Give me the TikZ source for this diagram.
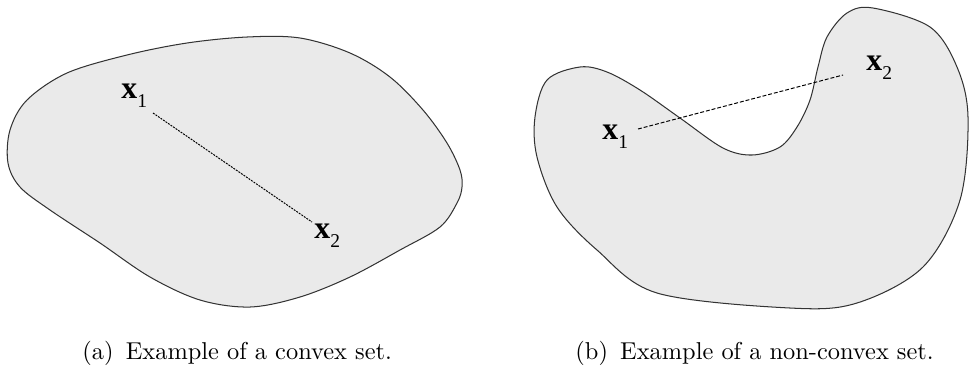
\documentclass[tikz,border=0pt]{standalone}
\usepackage{fontspec}
\usetikzlibrary{calc, positioning}

\newfontfamily\lblfont{Liberation Serif}
\newcommand\ptname[1]{{\lblfont\fontsize{13}{15}\selectfont\bfseries x}%
  \raisebox{-3.8pt}{\lblfont\fontsize{8}{9}\selectfont #1}}

\definecolor{setgray}{RGB}{234,234,234}
\tikzset{
  setshape/.style={draw=black!80, fill=setgray, line width=0.42pt},
  segfine/.style={dash pattern=on 0.8pt off 0.45pt, line width=0.4pt},
  segline/.style={dash pattern=on 1.6pt off 0.8pt, line width=0.4pt},
  ptlabel/.style={inner sep=0pt, anchor=base west},
  capt/.style={font=\normalsize, inner sep=0pt, anchor=base west}
}

\begin{document}
\begin{tikzpicture}[x=0.41pt, y=-0.41pt]
\useasboundingbox (0,0) rectangle (969,369);

% convex set
\draw[setshape] plot[smooth cycle, tension=0.55] coordinates {
  (67,73) (127,55) (187,43) (247,37) (300,38) (350,53) (390,77)
  (423,110) (447,143) (460,170) (462,187) (457,203) (440,227)
  (400,250) (350,277) (300,297) (250,307) (200,300) (150,277)
  (100,243) (50,210) (20,187) (8,163) (10,130) (27,100)};

\node[ptlabel] (xa1) at (121,98) {\ptname{1}};
\node[ptlabel] (xa2) at (314,238) {\ptname{2}};
\coordinate (pa1) at (153,113);
\coordinate (pa2) at (312,222);
\draw[segfine] (pa1) -- (pa2);

% non-convex set
\draw[setshape] plot[smooth cycle, tension=0.55] coordinates {
  (580,67) (607,72) (640,90) (680,118) (723,148) (752,155)
  (780,147) (797,127) (810,100) (818,67) (827,37) (847,13)
  (873,8) (930,27) (957,67) (968,117) (960,200) (923,267)
  (857,303) (790,308) (657,293) (597,250) (557,207) (537,157)
  (535,117) (547,80)};

\node[ptlabel] (xb1) at (602,139) {\ptname{1}};
\node[ptlabel] (xb2) at (866,70) {\ptname{2}};
\coordinate (pb1) at (638,129);
\coordinate (pb2) at (843,75);
\draw[segline] (pb1) -- (pb2);

% captions
\node[capt] (ca) at (82,359) {(a)\hspace{5pt}Example of a convex set.};
\node[capt] (cb) at (575,359) {(b)\hspace{5pt}Example of a non-convex set.};
\end{tikzpicture}
\end{document}
